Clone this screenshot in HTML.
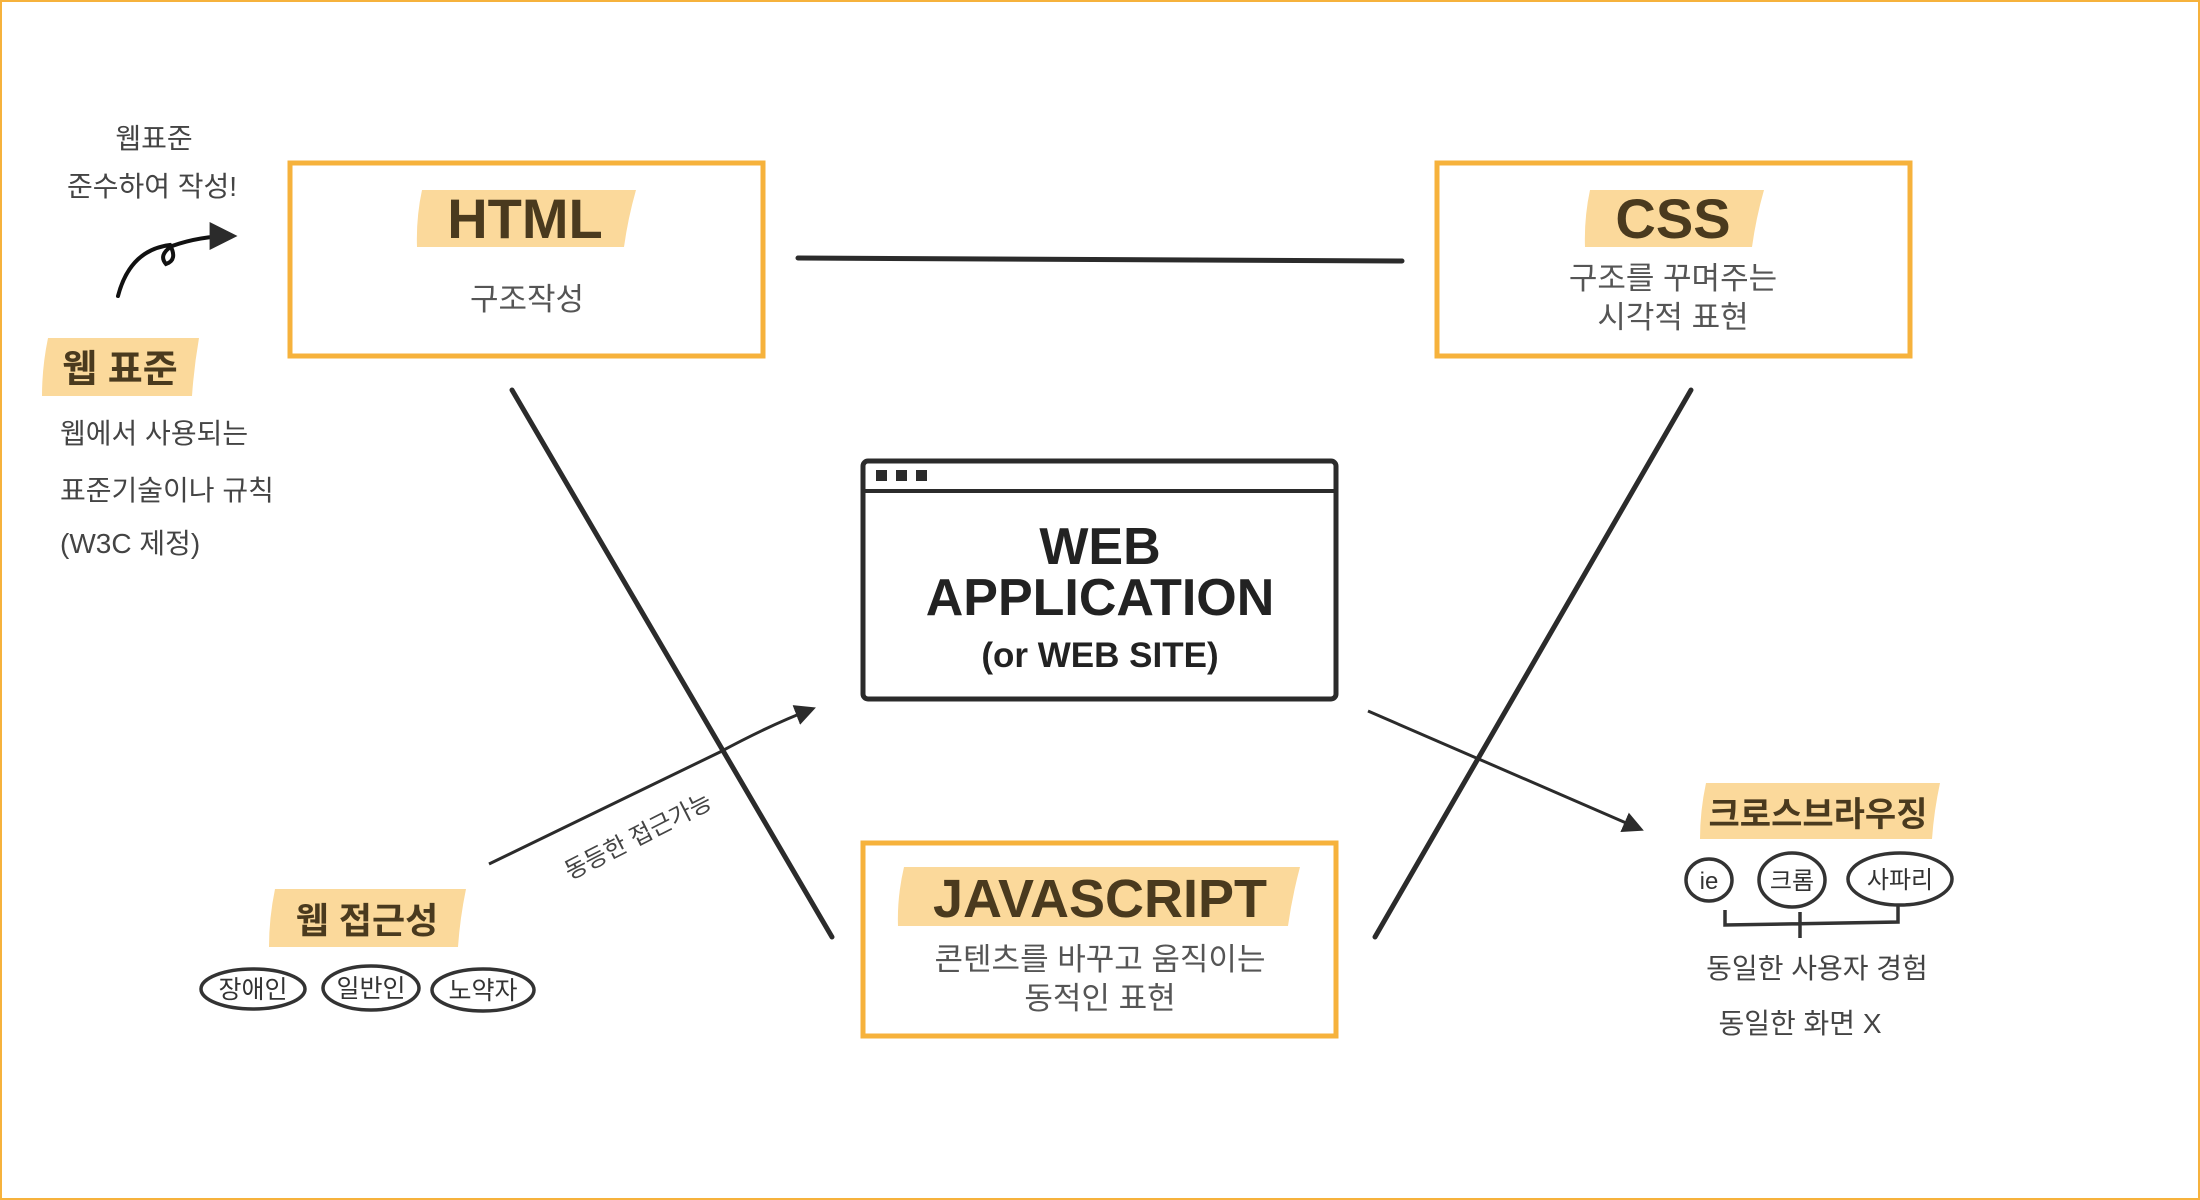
<!DOCTYPE html>
<html><head><meta charset="utf-8"><style>
html,body{margin:0;padding:0;background:#fff}
body{width:2200px;height:1200px;position:relative;overflow:hidden;font-family:"Liberation Sans","Noto Sans CJK KR","NanumGothic",sans-serif}
svg{position:absolute;left:0;top:0}
</style></head><body>
<svg width="2200" height="1200" viewBox="0 0 2200 1200" font-family="Liberation Sans, Noto Sans CJK KR, NanumGothic, sans-serif">
<rect x="1" y="1" width="2198" height="1198" fill="none" stroke="#f6b23c" stroke-width="2"/>
<defs><marker id="ah" viewBox="0 0 10 10" refX="8" refY="5" markerWidth="7" markerHeight="7" orient="auto"><path d="M0,0 L10,5 L0,10 z" fill="#2b2b2b"/></marker></defs>

<!-- lines -->
<line x1="798" y1="258" x2="1402" y2="261" stroke="#2b2b2b" stroke-width="5" stroke-linecap="round"/>
<line x1="512" y1="390" x2="832" y2="937" stroke="#2b2b2b" stroke-width="5" stroke-linecap="round"/>
<line x1="1691" y1="390" x2="1375" y2="937" stroke="#2b2b2b" stroke-width="5" stroke-linecap="round"/>

<!-- HTML box -->
<rect x="290" y="163" width="473" height="193" fill="#fff" stroke="#f6b23c" stroke-width="5"/>
<path d="M422,190 L636,190 Q628,218 624,247 L417,247 Q416,218 422,190z" fill="#fbd99b"/>
<text x="525" y="238" text-anchor="middle" font-size="56" font-weight="bold" fill="#4a3a1e">HTML</text>
<text x="527" y="310" text-anchor="middle" font-size="31" fill="#555">구조작성</text>

<!-- CSS box -->
<rect x="1437" y="163" width="473" height="193" fill="#fff" stroke="#f6b23c" stroke-width="5"/>
<path d="M1590,190 L1764,190 Q1756,218 1752,247 L1585,247 Q1584,218 1590,190z" fill="#fbd99b"/>
<text x="1673" y="238" text-anchor="middle" font-size="56" font-weight="bold" fill="#4a3a1e">CSS</text>
<text x="1673" y="289" text-anchor="middle" font-size="31" fill="#555">구조를 꾸며주는</text>
<text x="1673" y="328" text-anchor="middle" font-size="31" fill="#555">시각적 표현</text>

<!-- Web app window -->
<rect x="863" y="461" width="473" height="238" rx="5" fill="#fff" stroke="#2b2b2b" stroke-width="5"/>
<line x1="863" y1="491" x2="1336" y2="491" stroke="#2b2b2b" stroke-width="4"/>
<rect x="876" y="470" width="11" height="11" fill="#2b2b2b"/>
<rect x="896" y="470" width="11" height="11" fill="#2b2b2b"/>
<rect x="916" y="470" width="11" height="11" fill="#2b2b2b"/>
<text x="1100" y="564" text-anchor="middle" font-size="52" font-weight="bold" fill="#222">WEB</text>
<text x="1100" y="615" text-anchor="middle" font-size="52" font-weight="bold" fill="#222">APPLICATION</text>
<text x="1100" y="667" text-anchor="middle" font-size="35" font-weight="bold" fill="#222">(or WEB SITE)</text>

<!-- JS box -->
<rect x="863" y="843" width="473" height="193" fill="#fff" stroke="#f6b23c" stroke-width="5"/>
<path d="M904,867 L1300,867 Q1292,897 1288,926 L898,926 Q897,897 904,867z" fill="#fbd99b"/>
<text x="1100" y="917" text-anchor="middle" font-size="54" font-weight="bold" fill="#4a3a1e">JAVASCRIPT</text>
<text x="1100" y="970" text-anchor="middle" font-size="31" fill="#555">콘텐츠를 바꾸고 움직이는</text>
<text x="1100" y="1009" text-anchor="middle" font-size="31" fill="#555">동적인 표현</text>

<!-- arrows -->
<path d="M489,864 Q600,810 720,752 Q770,725 812,709" fill="none" stroke="#2b2b2b" stroke-width="3" marker-end="url(#ah)"/>
<text x="0" y="0" font-size="24" fill="#444" transform="translate(570,880) rotate(-27)">동등한 접근가능</text>
<line x1="1368" y1="711" x2="1640" y2="829" stroke="#2b2b2b" stroke-width="3" marker-end="url(#ah)"/>

<!-- left top -->
<text x="154" y="148" text-anchor="middle" font-size="28" fill="#444">웹표준</text>
<text x="152" y="196" text-anchor="middle" font-size="28" fill="#444">준수하여 작성!</text>
<path d="M118,296 Q130,250 170,245 Q178,260 166,264 Q158,255 172,246 Q200,236 232,236" fill="none" stroke="#111" stroke-width="4" stroke-linecap="round" marker-end="url(#ah)"/>

<path d="M48,338 L199,338 Q194,367 192,396 L42,396 Q42,367 48,338z" fill="#fbd99b"/>
<text x="120" y="382" text-anchor="middle" font-size="38" font-weight="bold" fill="#4a3a1e">웹 표준</text>
<text x="60" y="443" font-size="28" fill="#444">웹에서 사용되는</text>
<text x="60" y="500" font-size="28" fill="#444">표준기술이나 규칙</text>
<text x="60" y="553" font-size="28" fill="#444">(W3C 제정)</text>

<!-- 웹 접근성 -->
<path d="M275,889 L466,889 Q460,918 458,947 L269,947 Q269,918 275,889z" fill="#fbd99b"/>
<text x="367" y="933" text-anchor="middle" font-size="36" font-weight="bold" fill="#4a3a1e">웹 접근성</text>
<ellipse cx="253" cy="989" rx="52" ry="20" fill="none" stroke="#333" stroke-width="3.5"/>
<text x="253" y="998" text-anchor="middle" font-size="25" fill="#333">장애인</text>
<ellipse cx="371" cy="988" rx="48" ry="22" fill="none" stroke="#333" stroke-width="3.5"/>
<text x="371" y="997" text-anchor="middle" font-size="25" fill="#333">일반인</text>
<ellipse cx="483" cy="990" rx="51" ry="21" fill="none" stroke="#333" stroke-width="3.5"/>
<text x="483" y="999" text-anchor="middle" font-size="25" fill="#333">노약자</text>

<!-- 크로스브라우징 -->
<path d="M1706,783 L1940,783 Q1934,811 1932,839 L1700,839 Q1700,811 1706,783z" fill="#fbd99b"/>
<text x="1818" y="826" text-anchor="middle" font-size="34" font-weight="bold" fill="#4a3a1e">크로스브라우징</text>
<ellipse cx="1709" cy="880" rx="23" ry="21" fill="none" stroke="#333" stroke-width="3.5"/>
<text x="1709" y="889" text-anchor="middle" font-size="24" fill="#333">ie</text>
<ellipse cx="1792" cy="880" rx="33" ry="27" fill="none" stroke="#333" stroke-width="3.5"/>
<text x="1792" y="889" text-anchor="middle" font-size="24" fill="#333">크롬</text>
<ellipse cx="1900" cy="879" rx="52" ry="26" fill="none" stroke="#333" stroke-width="3.5"/>
<text x="1900" y="888" text-anchor="middle" font-size="24" fill="#333">사파리</text>
<path d="M1725,910 L1725,925 L1898,922 L1898,906 M1800,912 L1800,938" fill="none" stroke="#333" stroke-width="3.5"/>
<text x="1817" y="978" text-anchor="middle" font-size="28" fill="#444">동일한 사용자 경험</text>
<text x="1800" y="1033" text-anchor="middle" font-size="28" fill="#444">동일한 화면 X</text>
</svg>
</body></html>
